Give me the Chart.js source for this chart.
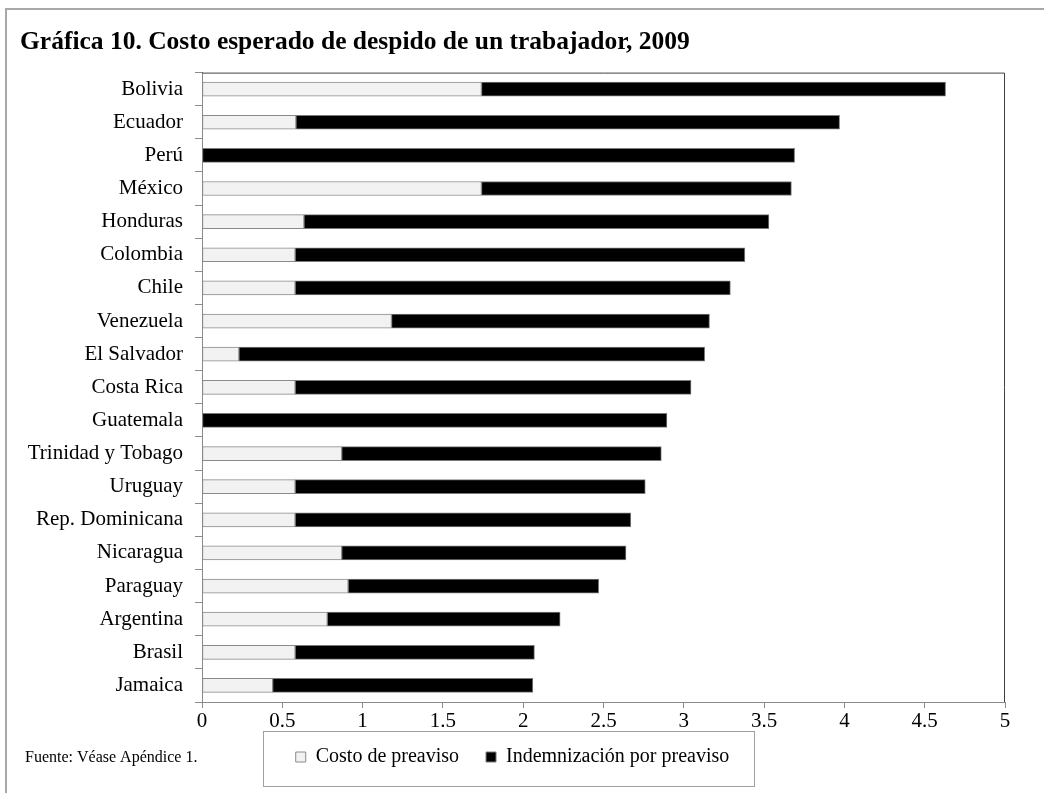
<!DOCTYPE html>
<html>
<head>
<meta charset="utf-8">
<script src="https://cdn.jsdelivr.net/npm/chart.js@4.4.1/dist/chart.umd.min.js"></script>
<style>
  body { margin: 0; background: #fff; }
  #marco { position: absolute; left: 5px; top: 8px; width: 1100px; height: 900px; border-top: 2px solid #a8a8a8; border-left: 2px solid #a8a8a8; }
  #myChart { position: absolute; left: 0; top: 0; }
</style>
</head>
<body>
<div id="marco"></div>
<canvas id="myChart" width="1044" height="793"></canvas>
<script>
var paises = ['Bolivia', 'Ecuador', 'Perú', 'México', 'Honduras', 'Colombia', 'Chile', 'Venezuela',
  'El Salvador', 'Costa Rica', 'Guatemala', 'Trinidad y Tobago', 'Uruguay', 'Rep. Dominicana',
  'Nicaragua', 'Paraguay', 'Argentina', 'Brasil', 'Jamaica'];
// Costo de preaviso (barra clara)
var preaviso = [1.74, 0.585, 0, 1.74, 0.635, 0.58, 0.58, 1.18, 0.23, 0.58, 0, 0.87, 0.58, 0.58, 0.87, 0.91, 0.78, 0.58, 0.44];
// Indemnización por preaviso (barra negra)
var indemnizacion = [2.89, 3.385, 3.69, 1.93, 2.895, 2.80, 2.71, 1.98, 2.90, 2.465, 2.895, 1.99, 2.18, 2.09, 1.77, 1.56, 1.45, 1.49, 1.62];
var ticksX = [0, 0.5, 1, 1.5, 2, 2.5, 3, 3.5, 4, 4.5, 5];

var serif = "'Liberation Serif', 'Times New Roman', serif";

// marco del área de trazado, marco de la leyenda y nota de fuente
var extras = {
  id: 'extras',
  afterLayout: function (chart) {
    // el eje x es bajo para dejar sitio a la leyenda; se amplía su zona de recorte para las etiquetas
    var sx = chart.scales.x;
    sx.bottom = sx.top + 40;
  },
  afterDraw: function (chart) {
    var ctx = chart.ctx;
    var a = chart.chartArea;
    ctx.save();
    ctx.strokeStyle = '#404040';
    ctx.lineWidth = 1;
    ctx.beginPath();
    ctx.moveTo(a.left, a.top + 0.5);
    ctx.lineTo(a.right - 0.5, a.top + 0.5);
    ctx.lineTo(a.right - 0.5, a.bottom);
    ctx.stroke();

    var hb = chart.legend.legendHitBoxes;
    if (hb && hb.length) {
      var first = hb[0], last = hb[hb.length - 1];
      var cy = first.top + first.height / 2;
      var x0 = Math.round(first.left - 33);
      var x1 = Math.round(last.left + last.width + 25);
      ctx.strokeStyle = '#a0a0a0';
      ctx.strokeRect(x0 + 0.5, Math.round(cy - 26) + 0.5, x1 - x0, 55);
      ctx.fillStyle = '#000';
      ctx.font = '16px ' + serif;
      ctx.textBaseline = 'middle';
      ctx.fillText('Fuente: Véase Apéndice 1.', 25, cy + 1);
    }
    ctx.restore();
  }
};

var ctx = document.getElementById('myChart').getContext('2d');
var myChart = new Chart(ctx, {
  type: 'bar',
  data: {
    labels: paises,
    datasets: [
      {
        label: 'Costo de preaviso',
        data: preaviso,
        backgroundColor: '#f2f2f2',
        borderColor: '#8a8a8a',
        borderWidth: 1,
        borderSkipped: false,
        barThickness: 14
      },
      {
        label: 'Indemnización por preaviso',
        data: indemnizacion,
        backgroundColor: '#000000',
        borderColor: '#7a7a7a',
        borderWidth: 1,
        borderSkipped: false,
        barThickness: 14
      }
    ]
  },
  options: {
    indexAxis: 'y',
    responsive: false,
    animation: false,
    devicePixelRatio: 1,
    layout: { padding: { left: 20, right: 39, top: 0, bottom: 16 } },
    font: { family: serif },
    scales: {
      x: {
        stacked: true,
        min: 0,
        max: 5,
        afterBuildTicks: function (scale) {
          scale.ticks = ticksX.map(function (v) { return { value: v }; });
        },
        afterFit: function (scale) { scale.height = 18; },
        grid: { drawOnChartArea: false, drawTicks: true, tickLength: 6, color: '#8a8a8a' },
        border: { color: '#8a8a8a', width: 1 },
        ticks: {
          color: '#000',
          padding: 1,
          font: { family: serif, size: 21 },
          maxRotation: 0,
          callback: function (v) { return String(v); }
        }
      },
      y: {
        stacked: true,
        offset: true,
        afterFit: function (scale) { scale.width = 182; },
        grid: { offset: true, drawOnChartArea: false, drawTicks: true, tickLength: 7, color: '#8a8a8a' },
        border: { color: '#8a8a8a', width: 1 },
        ticks: { color: '#000', padding: 12, font: { family: serif, size: 21 } }
      }
    },
    plugins: {
      title: {
        display: true,
        text: 'Gráfica 10. Costo esperado de despido de un trabajador, 2009',
        align: 'start',
        color: '#000',
        font: { family: serif, size: 25.5, weight: 'bold' },
        padding: { top: 27, bottom: 15 }
      },
      legend: {
        position: 'bottom',
        labels: {
          color: '#000',
          boxWidth: 10,
          boxHeight: 10,
          padding: 27,
          font: { family: serif, size: 20 }
        }
      },
      tooltip: { enabled: false }
    }
  },
  plugins: [extras]
});
</script>
</body>
</html>
